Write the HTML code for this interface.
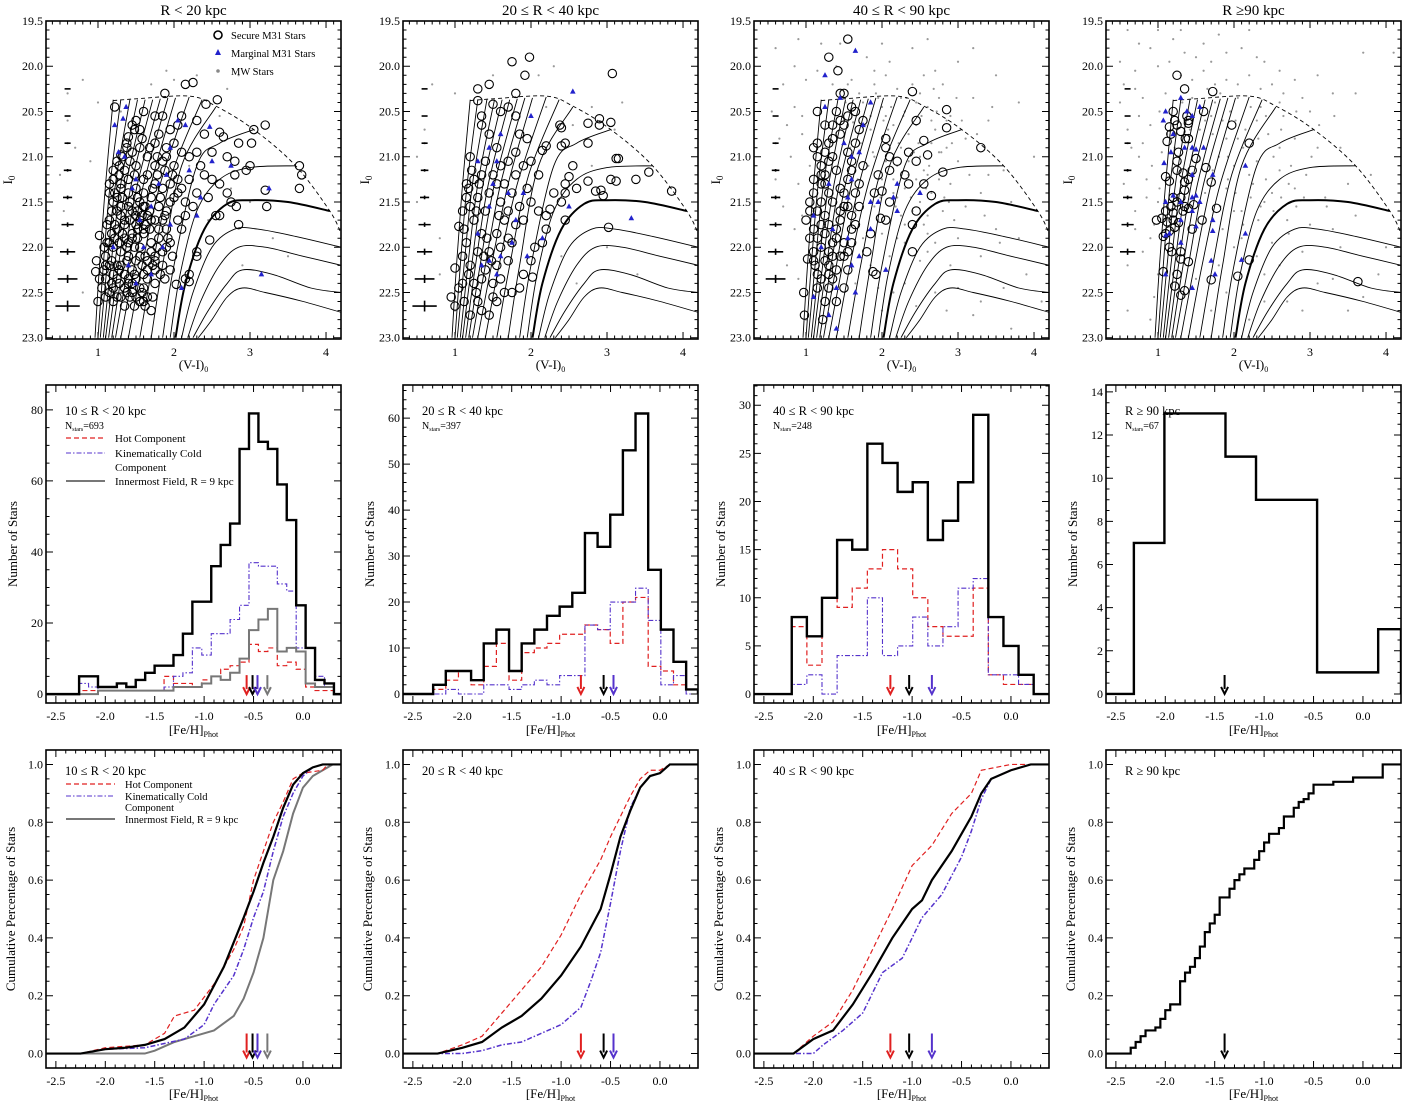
<!DOCTYPE html>
<html><head><meta charset="utf-8"><style>
html,body{margin:0;padding:0;background:#fff}
svg{display:block;font-family:"Liberation Serif",serif}
</style></head><body>
<svg id="fig" width="1403" height="1103" viewBox="0 0 1403 1103" xmlns="http://www.w3.org/2000/svg"></svg>
<script>
// ---------------- DATA ----------------
const panelTitles = ["R < 20 kpc","20 \u2264 R < 40 kpc","40 \u2264 R < 90 kpc","R \u226590 kpc"];
const rangeLabels = ["10 \u2264 R < 20 kpc","20 \u2264 R < 40 kpc","40 \u2264 R < 90 kpc","R \u2265 90 kpc"];
const nStars = [693,397,248,67];
const binStart = [-2.265,-2.295,-2.218,-2.318];
const binWidth = [0.0955,0.128,0.153,0.309];
const histAll1 = [5,5,2,2,3,2,4,6,8,8,11,17,26,26,36,42,48,69,79,71,69,59,49,25,13,4,3];
const histHot1 = [1,1,1,1,1,1,1,1,1,5,3,3,2,4,5,7,8,9,14,12,13,8,9,7,2,1,1];
const histCold1= [3,2,1,1,1,1,1,1,1,2,5,6,13,11,17,17,21,25,37,36,36,31,29,13,13,5,2];
const histInner1=[0,0,1,1,1,1,1,1,1,1,2,2,2,3,5,4,6,10,18,21,24,12,13,12,3,2,2];
const histAll2 = [2,5,5,3,11,14,5,11,14,17,19,22,35,32,39,53,61,27,14,7,1];
const histHot2 = [1,3,5,2,6,11,3,9,10,11,13,13,15,14,11,20,21,6,5,2,1];
const histCold2= [0,1,0,0,2,2,1,2,3,2,4,4,15,14,20,20,23,16,2,4,0];
const histAll3 = [8,6,10,16,15,26,24,21,22,16,18,22,29,8,5,2];
const histHot3 = [7,3,10,9,11,13,15,13,10,7,6,6,11,2,1,1];
const histCold3= [1,2,0,4,4,10,4,5,8,5,7,11,12,2,2,1];
const histAll4 = [7,13,13,11,9,9,1,1,3];
const arrowHot = [-0.57,-0.80,-1.22,null];
const arrowAll = [-0.51,-0.57,-1.03,-1.40];
const arrowCold= [-0.46,-0.47,-0.80,null];
const arrowInner=[-0.36,null,null,null];
const cumAll1 = [[-2.25,0],[-2.0,0.015],[-1.8,0.02],[-1.6,0.03],[-1.4,0.05],[-1.2,0.09],[-1.0,0.17],[-0.8,0.30],[-0.6,0.47],[-0.5,0.56],[-0.4,0.66],[-0.3,0.75],[-0.2,0.85],[-0.1,0.93],[0.0,0.97],[0.1,0.99],[0.2,1.0]];
const cumHot1 = [[-2.25,0],[-2.0,0.02],[-1.6,0.03],[-1.4,0.07],[-1.3,0.13],[-1.1,0.15],[-0.9,0.24],[-0.7,0.36],[-0.6,0.44],[-0.5,0.60],[-0.4,0.70],[-0.3,0.80],[-0.2,0.87],[-0.1,0.95],[0.0,0.97],[0.2,0.98],[0.25,1.0]];
const cumCold1= [[-2.25,0],[-2.0,0.015],[-1.6,0.02],[-1.2,0.05],[-1.0,0.10],[-0.9,0.17],[-0.7,0.27],[-0.6,0.36],[-0.5,0.47],[-0.4,0.56],[-0.3,0.70],[-0.2,0.82],[-0.1,0.90],[0.0,0.96],[0.1,0.99],[0.2,1.0]];
const cumInner1=[[-1.6,0],[-1.5,0.01],[-1.3,0.04],[-1.1,0.06],[-0.9,0.08],[-0.7,0.13],[-0.6,0.19],[-0.5,0.28],[-0.4,0.40],[-0.35,0.50],[-0.3,0.60],[-0.2,0.70],[-0.1,0.83],[0.0,0.92],[0.1,0.96],[0.2,0.98],[0.3,1.0]];
const cumAll2 = [[-2.25,0],[-2.0,0.02],[-1.8,0.04],[-1.6,0.09],[-1.4,0.13],[-1.2,0.19],[-1.0,0.27],[-0.8,0.37],[-0.6,0.50],[-0.5,0.62],[-0.4,0.75],[-0.3,0.84],[-0.2,0.92],[-0.1,0.96],[0.0,0.97],[0.1,1.0]];
const cumHot2 = [[-2.25,0],[-2.0,0.03],[-1.8,0.06],[-1.6,0.14],[-1.4,0.22],[-1.2,0.30],[-1.0,0.41],[-0.8,0.55],[-0.6,0.67],[-0.5,0.75],[-0.4,0.82],[-0.3,0.89],[-0.2,0.95],[-0.1,0.98],[0.0,0.98],[0.1,1.0]];
const cumCold2= [[-2.25,0],[-2.0,0],[-1.8,0.01],[-1.6,0.03],[-1.4,0.04],[-1.2,0.07],[-1.0,0.10],[-0.8,0.16],[-0.7,0.25],[-0.6,0.35],[-0.5,0.52],[-0.4,0.70],[-0.3,0.85],[-0.2,0.92],[-0.1,0.96],[0.0,0.97],[0.1,1.0]];
const cumAll3 = [[-2.2,0],[-2.0,0.05],[-1.8,0.08],[-1.6,0.17],[-1.4,0.28],[-1.2,0.40],[-1.0,0.50],[-0.9,0.53],[-0.8,0.60],[-0.6,0.70],[-0.5,0.76],[-0.4,0.82],[-0.3,0.90],[-0.2,0.95],[0.0,0.98],[0.2,1.0]];
const cumHot3 = [[-2.2,0],[-2.0,0.06],[-1.8,0.11],[-1.6,0.22],[-1.4,0.36],[-1.2,0.50],[-1.0,0.65],[-0.8,0.72],[-0.6,0.83],[-0.4,0.90],[-0.3,0.98],[0.0,1.0]];
const cumCold3= [[-2.0,0],[-1.9,0.03],[-1.7,0.08],[-1.5,0.14],[-1.3,0.28],[-1.1,0.33],[-0.9,0.47],[-0.7,0.55],[-0.5,0.68],[-0.4,0.77],[-0.3,0.88],[-0.2,0.95],[0.0,0.98],[0.2,1.0]];
const cumAll4 = [[-2.35,0.02],[-2.3,0.04],[-2.25,0.06],[-2.2,0.08],[-2.1,0.09],[-2.05,0.12],[-2.0,0.15],[-1.95,0.17],[-1.85,0.25],[-1.8,0.28],[-1.75,0.30],[-1.7,0.33],[-1.65,0.37],[-1.6,0.42],[-1.55,0.45],[-1.5,0.48],[-1.45,0.54],[-1.35,0.57],[-1.3,0.60],[-1.25,0.62],[-1.2,0.64],[-1.1,0.67],[-1.05,0.70],[-1.0,0.73],[-0.95,0.76],[-0.85,0.78],[-0.8,0.82],[-0.7,0.85],[-0.65,0.87],[-0.6,0.88],[-0.55,0.90],[-0.5,0.93],[-0.3,0.94],[-0.1,0.955],[0.2,1.0]];
const secure1 = "1.22,20.45;1.5,20.6;1.55,20.7;1.6,20.5;1.75,20.55;1.85,20.55;1.95,20.7;2.05,20.65;2.1,20.55;1.88,20.3;2.15,20.2;2.25,20.18;2.57,20.37;2.42,20.42;2.3,20.6;2.4,20.75;2.6,20.73;2.5,20.95;2.65,20.78;2.7,21.0;2.8,21.05;2.85,20.85;3.05,20.7;3.02,20.85;3.2,20.65;2.95,21.15;3.0,21.1;3.65,21.1;3.68,21.2;3.65,21.35;3.2,21.37;3.22,21.55;2.8,21.2;2.6,21.3;2.5,21.25;2.7,21.4;2.75,21.5;2.82,21.55;2.85,21.75;2.55,21.65;2.6,21.65;2.47,21.92;2.3,22.05;2.3,22.1;2.2,22.3;2.15,22.35;2.2,22.38;2.03,22.41;1.7,22.7;1.0,22.6;0.97,22.27;0.98,22.15;1.02,21.87;1.15,21.7;1.15,21.3;1.2,21.15;1.25,21.05;1.3,20.98;1.4,20.78;1.45,20.65;1.35,21.15;1.4,21.4;1.55,21.5;1.6,21.4;1.65,21.2;1.75,21.1;1.85,21.05;1.9,21.0;2.0,21.1;2.1,20.95;2.2,21.0;2.3,20.95;2.35,21.1;2.4,21.2;2.2,21.25;2.1,21.35;2.0,21.45;1.9,21.6;2.05,21.7;2.15,21.5;2.3,21.4;2.45,21.45;1.3,21.55;1.25,21.8;1.2,22.0;1.3,22.05;1.35,22.3;1.45,22.5;1.55,22.6;1.65,22.55;1.2,22.45;1.1,22.35;1.1,22.1;1.15,21.95;1.25,22.2;1.4,21.95;1.5,21.75;1.6,21.85;1.7,22.05;1.8,21.9;1.9,21.8;1.85,22.2;1.95,22.25;1.75,22.4;1.6,22.3;1.5,22.15;1.4,22.1;1.3,21.65;1.45,21.6;1.65,21.65;1.75,21.7;1.8,21.55;1.7,21.45;1.6,21.25;1.5,21.1;1.45,20.95;1.55,20.9;1.65,21.0;1.75,20.85;1.8,20.75;1.9,20.9;2.0,20.85;2.05,21.25;1.95,21.3;1.85,21.35;1.75,21.3;1.6,21.55;1.5,21.35;1.4,21.25;1.3,21.3;1.2,21.5;1.25,21.6;1.35,21.75;1.45,21.85;1.55,22.0;1.65,22.15;1.75,22.25;1.85,22.05;1.6,22.45;1.4,22.4;1.3,22.55;1.2,22.6;1.35,22.65;1.5,22.35;1.05,22.45;1.1,22.55;1.25,22.35;1.15,22.2;1.35,21.9;1.55,21.7;1.7,21.95;1.45,22.25;1.95,21.95;2.1,21.8;2.15,21.65;2.25,21.55;1.32,21.45;1.42,21.7;1.52,21.9;1.62,22.1;1.72,22.2;1.38,22.0;1.48,22.3;1.58,22.5;1.28,22.25;1.18,22.4;1.22,21.9;1.42,22.55;1.52,21.6;1.68,21.8;1.78,22.0;1.88,22.35;1.08,22.0;1.12,21.75;1.18,21.6;1.22,21.4;1.28,21.2;1.32,21.0;1.38,20.85;1.42,21.05;1.48,21.2;1.52,21.45;1.58,21.65;1.62,21.75;1.68,21.6;1.72,21.35;1.78,21.2;1.82,21.45;1.88,21.65;1.92,21.9;1.98,22.1;1.82,22.3;1.72,22.55;1.62,22.65;1.48,22.65;1.38,22.5;1.28,22.4;1.18,22.15;1.12,21.95;1.22,21.75;1.32,21.85;1.42,21.5;1.52,21.8;1.62,21.55;1.58,22.2;1.48,22.0;1.38,22.15;1.28,21.95;1.18,21.85;1.08,22.25;1.02,22.35;1.15,22.5;1.25,22.55;1.35,22.45;1.45,22.4;1.55,22.45;1.65,22.35;1.75,22.1;1.85,21.7;1.95,21.5;2.05,21.4;1.98,21.2;1.88,21.15;1.78,21.0;1.68,20.9;1.58,20.8;1.48,20.7;1.38,20.9;1.28,21.1;1.2,21.25;1.3,21.35;1.4,21.55;1.5,21.65;1.6,21.8;1.7,21.7;1.8,21.8;1.9,22.0;1.75,22.15;1.65,22.25;1.55,22.1;1.45,21.9;1.35,21.7;1.25,21.45;1.15,21.4;1.2,22.3;1.3,22.2;1.4,22.35;1.5,22.55;1.6,22.6;1.1,22.2";
const marginal1 = "1.22,20.65;1.37,20.45;1.33,20.58;1.27,20.95;1.35,21.0;1.45,21.35;1.5,21.25;1.55,21.7;1.7,21.55;1.8,21.3;1.9,21.2;1.95,20.9;2.05,20.6;2.15,20.65;2.2,21.15;2.47,20.67;2.5,21.05;2.75,21.1;3.25,21.35;3.15,22.3;2.1,22.45;1.7,22.3;1.5,22.4;1.95,21.75;1.85,22.0;1.6,22.0;1.4,22.2;1.2,22.0;2.3,21.65;2.35,21.45";
const mw1 = "0.5,21.2;0.8,20.15;0.6,20.6;0.7,20.9;1.0,20.4;0.9,21.05;0.55,21.6;1.9,20.05;2.0,20.15;2.3,20.1;2.7,20.25;2.85,20.1;2.6,20.55;1.1,21.9;0.8,22.5;2.2,21.1;2.45,21.7;2.75,21.35;3.0,21.5;3.3,21.9;1.3,20.5;0.6,20.3;2.9,22.2;3.5,22.1;1.7,20.2";
const secure2 = "1.75,19.95;1.98,19.9;1.92,20.1;3.07,20.08;1.3,20.25;1.45,20.2;1.8,20.3;1.3,20.38;1.5,20.42;1.6,20.5;1.7,20.45;1.8,20.55;1.35,20.55;1.35,20.65;1.45,20.75;1.55,20.9;2.9,20.58;2.9,20.65;3.05,20.62;2.75,20.63;2.4,20.68;2.38,20.65;2.75,20.85;2.45,20.85;2.4,20.88;2.2,20.88;2.15,20.93;1.85,20.75;1.95,20.8;1.8,20.95;1.7,21.05;1.6,21.1;3.12,21.02;3.15,21.02;3.55,21.17;3.85,21.38;3.05,21.25;3.12,21.27;3.38,21.25;2.75,21.27;2.85,21.38;2.95,21.43;2.92,21.37;2.5,21.22;2.55,21.1;2.45,21.3;2.3,21.4;2.45,21.4;2.6,21.35;2.4,21.5;2.25,21.58;2.1,21.6;2.2,21.65;2.45,21.7;3.02,21.78;2.2,21.8;2.15,21.95;2.05,22.0;2.0,22.15;1.9,22.3;2.02,22.33;1.85,22.45;1.75,22.5;1.55,22.6;1.45,22.75;1.35,22.7;1.3,22.6;1.2,22.75;1.0,22.65;0.95,22.55;1.0,22.23;1.05,22.45;1.1,22.4;1.05,21.77;1.1,21.6;1.15,21.3;1.2,21.0;1.25,21.25;1.15,21.45;1.2,21.55;1.12,21.8;1.15,21.95;1.1,22.1;1.2,22.2;1.25,22.4;1.3,22.05;1.35,21.85;1.4,21.6;1.45,21.4;1.5,21.2;1.55,21.3;1.6,21.5;1.65,21.7;1.7,21.9;1.75,21.4;1.8,21.2;1.9,21.1;2.0,21.05;2.1,21.2;1.95,21.35;1.85,21.55;1.8,21.75;1.6,22.0;1.55,22.2;1.5,22.4;1.4,22.25;1.45,22.05;1.35,22.35;1.6,22.35;1.7,22.15;1.75,21.95;1.25,21.7;1.3,21.45;1.35,21.2;1.4,21.05;1.65,21.3;2.0,21.5;1.9,21.7;1.7,21.6;1.55,21.85;1.28,22.5;1.18,22.3;1.65,22.5;1.22,21.15;1.18,21.35;1.28,21.6;1.32,21.3;1.42,21.9;1.48,22.15;1.38,22.1;1.5,22.55;1.12,22.6;1.58,21.65";
const marginal2 = "2.55,20.28;2.0,20.55;1.6,20.75;1.45,20.9;1.55,21.05;1.3,21.05;1.5,21.3;1.7,21.4;1.9,21.4;1.45,21.55;2.5,21.55;3.32,21.68;2.15,21.9;1.75,21.95;1.6,22.1;1.45,22.15;1.35,22.2;1.55,22.3;1.95,22.1;1.3,21.85;1.8,21.7";
const mw2 = "0.5,21.0;0.7,20.2;1.0,20.3;1.5,20.1;2.1,20.1;2.3,20.0;2.55,20.65;2.8,20.45;3.1,20.7;0.6,20.7;0.5,21.5;0.8,21.9;1.0,22.7;2.4,22.1;2.8,21.1;3.0,22.0;3.4,22.3;2.6,22.4;0.8,22.3;3.2,20.4;2.2,20.45";
const secure3 = "1.55,19.7;1.3,19.9;1.42,20.05;1.45,20.3;1.5,20.3;1.6,20.45;1.65,20.5;1.55,20.55;1.4,20.5;1.45,20.6;1.35,20.65;1.25,20.65;1.15,20.5;2.4,20.28;2.45,20.6;2.85,20.48;2.85,20.68;3.3,20.9;2.6,20.98;2.55,20.82;2.45,21.05;2.35,20.95;2.2,21.05;2.05,20.9;2.1,21.0;2.05,20.8;2.1,21.15;2.3,21.2;2.35,21.3;2.55,21.3;2.8,21.17;2.65,21.43;2.45,21.6;2.4,21.75;2.4,22.05;2.1,21.5;2.05,21.7;1.98,21.68;1.9,21.4;2.0,21.38;1.95,21.2;1.85,21.85;1.8,22.05;1.92,22.3;1.88,22.27;1.15,20.85;1.1,20.9;1.15,21.0;1.2,21.1;1.25,21.2;1.1,21.25;1.05,21.5;1.0,21.7;1.05,21.6;1.1,21.8;1.15,21.9;1.2,22.0;1.1,22.05;1.15,22.3;1.12,22.2;1.2,22.35;1.25,22.15;1.3,22.05;1.35,21.95;1.4,21.8;1.45,21.6;1.5,21.4;1.55,21.25;1.6,21.05;1.65,20.85;1.7,20.7;1.75,20.6;1.3,21.4;1.35,21.5;1.25,21.65;1.2,21.5;1.3,21.75;1.5,21.95;1.45,22.1;1.4,22.25;1.35,22.35;1.3,22.3;1.5,22.1;1.55,22.05;1.6,21.95;1.65,21.75;1.55,21.55;1.45,21.35;1.4,21.15;1.35,21.0;1.3,20.85;1.25,20.95;1.2,21.3;0.97,22.5;0.98,22.75;1.02,22.13;1.22,22.8;1.3,22.45;1.7,21.3;1.75,21.1;1.6,21.65;1.55,22.25;1.5,22.45;1.1,21.4;1.15,21.6;1.2,21.75;1.25,21.85;1.3,22.2;1.35,22.1;1.4,21.9;1.45,21.7;1.5,21.55;1.2,21.2;1.25,21.3;1.3,21.05;1.35,20.8;1.45,20.75;1.5,20.65;1.55,20.95;1.6,21.15;1.65,21.4;1.7,21.55;1.6,21.8;1.05,21.9;1.1,22.15;1.15,22.45;1.25,22.6;1.4,22.6";
const marginal3 = "1.25,20.1;1.65,19.83;1.25,20.45;1.45,20.35;1.85,20.4;1.75,20.65;1.5,20.85;1.6,21.0;1.7,20.95;1.3,21.3;1.55,21.45;1.6,21.25;1.85,21.5;1.95,21.5;2.2,21.3;2.15,21.45;2.2,21.6;2.5,21.4;1.1,21.65;1.35,21.8;1.55,21.9;1.85,21.8;2.05,22.25;1.6,22.2;1.7,22.1;1.4,22.45;1.1,22.55;1.4,22.9;1.65,22.5;1.3,22.75;1.2,22.0";
const mw3 = "0.6,19.8;0.9,19.7;1.2,19.75;1.8,19.9;2.1,19.95;2.4,19.8;2.7,20.05;3.0,19.95;3.5,20.1;0.7,20.2;1.0,20.15;1.6,20.15;1.9,20.2;2.2,20.25;2.5,20.3;2.8,20.2;3.2,20.35;0.55,20.5;0.85,20.45;1.75,20.4;2.0,20.45;2.3,20.5;2.6,20.45;2.9,20.55;3.4,20.6;0.65,20.8;0.95,20.75;1.85,20.7;2.15,20.65;2.35,20.75;2.7,20.7;3.1,20.8;0.8,21.0;1.9,21.0;2.25,20.9;2.5,21.0;2.75,20.95;3.0,21.05;3.6,21.15;0.6,21.25;0.9,21.3;2.0,21.25;2.3,21.35;2.6,21.2;2.9,21.3;3.3,21.4;0.7,21.55;1.9,21.55;2.2,21.45;2.5,21.5;2.8,21.6;3.1,21.55;0.85,21.8;2.0,21.85;2.3,21.75;2.6,21.85;3.0,21.9;3.5,21.8;0.6,22.05;2.1,22.1;2.5,22.15;2.9,22.2;3.3,22.1;0.9,22.35;2.3,22.4;2.7,22.5;3.6,22.45;1.0,22.8;2.0,22.7;3.2,22.75;1.4,20.0;1.55,20.2;2.05,20.1;2.55,20.1;1.7,20.3;2.2,21.1;2.4,21.6;2.65,21.4;2.1,20.8;1.95,21.7;3.8,20.4;4.0,21.0;3.9,22.3;3.7,22.9;2.45,20.4;2.65,20.6;2.05,20.55;2.35,21.05;2.55,21.15;2.15,21.25;1.85,20.55;2.75,20.35;2.25,20.35;1.95,20.35;2.85,20.9;2.45,21.25;2.6,21.65;2.2,21.9;2.4,20.2;1.9,20.05;1.52,20.4;1.62,20.62;1.72,20.85;1.82,21.1;1.92,20.3;2.02,20.6;2.12,20.45;2.22,20.85;2.32,20.35;2.42,20.95;2.52,20.55;2.62,21.1;2.72,20.5;2.82,21.45;2.92,20.85;1.55,21.15;1.65,21.6;1.75,21.9;1.85,22.2;2.05,21.05;2.15,21.4;2.25,21.65;2.35,21.2;2.45,20.65;2.55,21.75;2.65,20.85;2.75,21.25;2.85,20.6;2.95,21.7;3.05,20.6;3.15,21.2;3.25,20.75;3.35,21.65;3.45,20.45;3.55,21.95;1.48,20.55;1.58,20.9;1.68,21.25;1.78,20.65;1.88,20.95;1.98,21.45;2.08,20.7;2.18,21.55;2.28,20.55;2.38,21.45;2.48,20.85;2.58,21.35;2.68,20.25;2.78,20.95;2.88,21.5;2.98,20.35;1.15,20.05;1.35,20.2;0.95,20.55;0.75,20.65;1.05,21.1;0.65,21.45;0.95,21.65;0.75,22.2;1.65,22.4;2.15,22.5;2.6,22.05;3.0,22.45;3.4,21.2;3.7,21.5;3.2,19.8;2.6,19.7;2.0,19.75;1.45,19.75;0.85,20.0;2.3,21.95;2.7,21.95;1.95,22.45;2.45,22.65;2.85,22.7;3.8,21.9;3.3,22.6;4.1,22.6";
const secure4 = "1.25,20.1;1.35,20.25;1.72,20.28;1.2,20.5;1.38,20.55;1.4,20.6;1.4,20.63;1.22,20.6;1.25,20.65;1.15,20.67;1.3,20.72;1.17,20.75;1.12,20.83;1.36,20.8;1.4,20.8;1.6,20.5;1.97,20.65;2.2,20.85;1.27,20.95;1.25,21.05;1.5,21.02;1.45,21.15;1.33,21.18;1.25,21.15;1.1,21.22;1.15,21.27;1.63,21.12;1.7,21.28;1.35,21.28;1.4,21.25;1.35,21.37;1.3,21.45;1.2,21.45;1.17,21.55;1.25,21.5;1.35,21.55;1.33,21.6;1.47,21.53;1.4,21.57;1.1,21.6;1.2,21.62;1.05,21.68;0.98,21.7;1.12,21.72;1.2,21.7;1.27,21.73;1.22,21.78;1.15,21.82;1.1,21.85;1.07,21.88;1.58,21.7;1.77,21.57;1.45,21.8;1.15,22.0;1.18,22.05;1.3,22.05;1.3,22.13;1.4,22.16;1.07,22.27;1.25,22.3;1.7,22.36;2.05,22.32;2.2,22.14;1.22,22.43;1.35,22.48;1.3,22.53;3.63,22.38";
const marginal4 = "1.3,20.35;1.1,20.5;1.07,20.6;1.2,20.75;1.38,20.5;1.45,20.55;1.55,20.45;1.17,20.95;1.08,21.07;1.35,20.9;1.45,20.9;1.5,20.92;1.6,20.9;1.45,21.2;1.72,21.2;2.15,21.1;1.1,21.5;1.2,21.43;1.3,21.5;1.45,21.45;1.5,21.43;1.55,21.5;1.45,21.6;1.3,21.7;1.5,21.77;1.72,21.7;1.72,21.82;2.15,21.85;1.3,21.95;1.7,22.15;2.1,22.14;1.1,22.3;1.75,22.3;1.45,22.45;1.15,21.85;1.1,21.87";
const mw4 = "0.6,19.6;0.9,19.8;1.2,19.7;1.5,19.9;1.8,19.65;2.1,19.8;2.4,19.95;3.7,19.85;0.7,20.05;1.0,20.0;1.3,20.1;1.6,20.05;1.9,20.15;2.2,20.1;2.5,20.2;2.8,20.15;3.3,20.3;0.5,20.4;0.8,20.35;1.1,20.3;1.45,20.35;1.75,20.4;2.05,20.35;2.35,20.45;2.65,20.55;3.0,20.5;0.6,20.7;0.9,20.65;1.55,20.7;1.85,20.6;2.15,20.7;2.45,20.75;2.8,20.8;3.4,20.9;0.75,21.0;1.05,20.95;1.8,21.0;2.0,21.1;2.3,21.05;2.6,21.15;2.95,21.2;0.55,21.3;0.85,21.25;1.9,21.35;2.25,21.3;2.5,21.4;2.8,21.35;3.2,21.45;0.7,21.6;2.0,21.6;2.35,21.55;2.7,21.7;3.0,21.75;3.6,21.65;0.9,21.9;2.1,21.9;2.5,21.95;2.9,22.05;3.4,22.0;0.6,22.2;1.8,22.2;2.4,22.3;3.1,22.4;3.9,22.3;0.95,22.55;2.7,22.6;3.5,22.7;0.6,22.7;1.4,20.5;1.65,20.25;2.05,20.8;1.95,20.5;2.2,21.2;1.7,19.95;2.6,20.4;2.1,21.6;0.5,19.95;4.1,19.85;3.6,20.3;3.8,21.2;1.0,19.6;1.35,19.85;0.8,20.85;1.7,20.55;2.3,20.6;2.6,20.9;1.9,20.8;2.4,21.5;2.75,21.1;0.65,21.45;1.0,21.5;0.7,20.25;3.1,20.9;2.2,19.6;1.02,20.5;1.12,20.75;1.22,20.9;1.32,20.4;1.42,20.7;1.52,21.05;1.62,20.6;1.72,20.75;1.82,20.3;1.92,21.0;2.02,20.6;2.12,20.9;2.22,20.45;2.32,20.8;2.42,20.55;2.52,21.0;2.62,20.7;2.72,21.3;2.82,20.5;0.92,21.1;1.02,21.35;1.62,21.4;1.72,21.15;1.82,21.55;1.92,21.25;2.02,21.4;2.12,21.75;2.22,21.45;2.32,21.7;2.42,21.25;2.52,21.6;2.62,21.45;2.72,21.85;2.82,21.55;2.92,21.45;3.02,21.0;3.12,20.65;3.22,21.55;3.32,20.55;0.75,20.55;0.65,20.9;0.85,21.45;0.95,21.75;0.8,22.05;1.0,22.3;1.5,22.35;1.9,22.5;2.3,22.1;2.6,22.2;2.9,22.7;3.3,22.35;3.7,22.55;4.0,22.0;1.3,19.6;1.6,19.75;1.9,19.85;2.3,19.9;2.6,20.05;2.9,20.35;3.1,20.1;0.75,19.75;1.15,19.95;1.45,20.15;1.75,20.2;2.05,20.2;2.35,20.25;2.65,20.3;0.55,20.2;0.7,21.8;1.85,21.8;2.0,22.0;2.4,22.6;3.5,21.3;3.3,21.8;2.2,22.8;1.7,22.7;0.9,22.8";
const errI = [20.25,20.55,20.85,21.15,21.45,21.75,22.05,22.35,22.65];
const errDX = [0.02,0.03,0.04,0.05,0.06,0.08,0.10,0.13,0.16];
const errDY = [0.0,0.005,0.01,0.015,0.02,0.025,0.035,0.045,0.06];
const errRows = [9,9,8,7];
const isochrones = [
[[0.96,23],[1.02,22.2],[1.1,21.3],[1.2,20.37]],
[[1.0,23],[1.07,22.2],[1.16,21.3],[1.3,20.37]],
[[1.03,23],[1.12,22.2],[1.23,21.3],[1.42,20.37]],
[[1.07,23],[1.17,22.2],[1.3,21.3],[1.52,20.37]],
[[1.1,23],[1.22,22.2],[1.37,21.3],[1.62,20.37]],
[[1.14,23],[1.27,22.2],[1.44,21.3],[1.72,20.37]],
[[1.18,23],[1.33,22.2],[1.52,21.3],[1.82,20.36]],
[[1.23,23],[1.4,22.2],[1.6,21.3],[1.92,20.35]],
[[1.3,23],[1.48,22.2],[1.7,21.3],[2.02,20.35]],
[[1.4,23],[1.58,22.2],[1.82,21.3],[2.2,20.34]],
[[1.55,23],[1.72,22.2],[1.97,21.2],[2.37,20.37]],
[[1.7,23],[1.85,22.2],[2.1,21.1],[2.55,20.45]],
[[1.85,23],[2.0,22.2],[2.3,21.1],[2.6,20.85],[3.05,20.7]],
[[1.95,23],[2.08,22.3],[2.3,21.6],[2.6,21.25],[3.0,21.12],[3.6,21.1]],
[[2.02,23],[2.15,22.4],[2.4,21.8],[2.7,21.52],[3.0,21.48],[3.5,21.5],[4.05,21.6]],
[[2.1,23],[2.25,22.5],[2.5,22.0],[2.8,21.8],[3.1,21.8],[3.6,21.88],[4.2,22.0]],
[[2.18,23],[2.35,22.6],[2.6,22.2],[2.85,22.0],[3.2,22.0],[3.7,22.1],[4.2,22.2]],
[[2.25,23],[2.45,22.7],[2.7,22.4],[2.9,22.25],[3.3,22.3],[3.8,22.45],[4.2,22.5]],
[[2.32,23],[2.5,22.8],[2.7,22.55],[2.9,22.45],[3.2,22.5],[3.7,22.6],[4.2,22.72]]
];
const boundary = [[1.2,20.38],[1.5,20.36],[2.2,20.33],[2.55,20.44],[3.05,20.7],[3.6,21.1],[4.05,21.6],[4.2,21.85]];

// ---------------- LAYOUT ----------------
const NS="http://www.w3.org/2000/svg";
const svg=document.getElementById('fig');
const colX=[46,403,754,1106], PW=295;
const rowCMD=[21,339], rowH=[385,703], rowC=[750,1068];
const FX=[-2.6,0.385];
function el(tag,attrs,parent){const e=document.createElementNS(NS,tag);for(const k in attrs)e.setAttribute(k,attrs[k]);(parent||svg).appendChild(e);return e;}
function parse(s){return s.split(';').map(p=>p.split(',').map(Number));}
function smoothPath(pts){let d='M'+pts[0][0].toFixed(1)+','+pts[0][1].toFixed(1);
 for(let i=0;i<pts.length-1;i++){const p0=pts[i-1]||pts[i],p1=pts[i],p2=pts[i+1],p3=pts[i+2]||p2;
  const c1=[p1[0]+(p2[0]-p0[0])/6,p1[1]+(p2[1]-p0[1])/6],c2=[p2[0]-(p3[0]-p1[0])/6,p2[1]-(p3[1]-p1[1])/6];
  d+=' C'+c1.map(v=>v.toFixed(1))+' '+c2.map(v=>v.toFixed(1))+' '+p2.map(v=>v.toFixed(1));}
 return d;}

function axes(g,L,T,B,xmin,xmax,ymin,ymax,xMaj,xMin,yMaj,yMin,xLabs,yLabs,inv){
 const W=PW,H=B-T;
 const sx=v=>L+(v-xmin)/(xmax-xmin)*W;
 const sy=inv?(v=>T+(v-ymin)/(ymax-ymin)*H):(v=>B-(v-ymin)/(ymax-ymin)*H);
 const fr=el('rect',{x:L,y:T,width:W,height:H,fill:'none',stroke:'#000','stroke-width':1.6},g);
 
 
 let d='';
 const k0=Math.ceil(xmin/xMin-1e-6),k1=Math.floor(xmax/xMin+1e-6);
 for(let k=k0;k<=k1;k++){const v=k*xMin,x=sx(v);const maj=Math.abs(v/xMaj-Math.round(v/xMaj))<1e-6;const len=maj?7:3.5;
  d+=`M${x},${B}v${-len}M${x},${T}v${len}`;}
 const j0=Math.ceil(Math.min(ymin,ymax)/yMin-1e-6),j1=Math.floor(Math.max(ymin,ymax)/yMin+1e-6);
 for(let k=j0;k<=j1;k++){const v=k*yMin,y=sy(v);const maj=Math.abs(v/yMaj-Math.round(v/yMaj))<1e-6;const len=maj?7:3.5;
  d+=`M${L},${y}h${len}M${L+W},${y}h${-len}`;}
 const tk=el('path',{d:d,stroke:'#000','stroke-width':1,fill:'none'},g);
 
 
 xLabs.forEach(v=>{const t=el('text',{x:sx(v),y:B+17,'font-size':12,'text-anchor':'middle'},g);t.textContent=v.toFixed(xMaj<1?1:0);
  
  });
 yLabs.forEach(v=>{const t=el('text',{x:L-3,y:sy(v)+4,'font-size':12,'text-anchor':'end'},g);t.textContent=yMaj<1||inv?v.toFixed(1):String(v);
  
  });
 return {sx,sy};
}
function range(a,b,s){const r=[];for(let k=Math.round(a/s);k<=Math.round(b/s);k++)r.push(+(k*s).toFixed(4));return r;}
function ylabel(g,x,yc,txt,sub){const t=el('text',{x:x,y:yc,'font-size':13,'text-anchor':'middle',transform:`rotate(-90 ${x} ${yc})`},g);
 t.textContent=txt; if(sub){const s=el('tspan',{'font-size':9,dy:3},t);s.textContent=sub;}
 
 }
function xlabel(g,xc,y,txt,sub){const t=el('text',{x:xc,y:y,'font-size':13,'text-anchor':'middle'},g);t.textContent=txt;
 const s=el('tspan',{'font-size':8,dy:3},t);s.textContent=sub;
 
 }
function txt(g,x,y,s,fs,name){const t=el('text',{x:x,y:y,'font-size':fs},g);t.textContent=s;
 
 return t;}

// ---------------- ROW 1: CMDs ----------------
const secureArr=[secure1,secure2,secure3,secure4].map(parse);
const marginalArr=[marginal1,marginal2,marginal3,marginal4].map(parse);
const mwArr=[mw1,mw2,mw3,mw4].map(parse);
for(let c=0;c<4;c++){
 const L=colX[c];
 const g=el('g',{});
 
 
 const tt=el('text',{x:L+PW/2,y:15,'font-size':15,'text-anchor':'middle'},g);tt.textContent=panelTitles[c];
 
 
 const cp=el('clipPath',{id:'clipc'+c},g);el('rect',{x:L,y:rowCMD[0],width:PW,height:rowCMD[1]-rowCMD[0]},cp);
 const dg=el('g',{'clip-path':`url(#clipc${c})`},g);
 const xmin=0.316,xmax=4.197,ymin=19.5,ymax=23.014;
 const sx=v=>L+(v-xmin)/(xmax-xmin)*PW, sy=v=>rowCMD[0]+(v-ymin)/(ymax-ymin)*(rowCMD[1]-rowCMD[0]);
 mwArr[c].forEach(p=>{const e=el('circle',{cx:sx(p[0]),cy:sy(p[1]),r:1.1,fill:'#999'},dg);
  
  });
 isochrones.forEach((iso,i)=>{const e=el('path',{d:smoothPath(iso.map(p=>[sx(p[0]),sy(p[1])])),fill:'none',stroke:'#000','stroke-width':(i==14?2:0.9)},dg);
  
  });
 const bd=el('path',{d:smoothPath(boundary.map(p=>[sx(p[0]),sy(p[1])])),fill:'none',stroke:'#000','stroke-width':0.9,'stroke-dasharray':'4,3'},dg);
 
 
 secureArr[c].forEach(p=>{const e=el('circle',{cx:sx(p[0]),cy:sy(p[1]),r:4.2,fill:'none',stroke:'#000','stroke-width':1.1},dg);
  
  });
 marginalArr[c].forEach(p=>{const x=sx(p[0]),y=sy(p[1]);const e=el('polygon',{points:`${x},${y-3.2} ${x-2.8},${y+2} ${x+2.8},${y+2}`,fill:'#2222cc'},dg);
  
  });
 for(let i=0;i<errRows[c];i++){const x=sx(0.6),y=sy(errI[i]);const dx=Math.max(errDX[i]*(PW/(xmax-xmin)),3),dy=errDY[i]*((rowCMD[1]-rowCMD[0])/(ymax-ymin));
  const e=el('path',{d:`M${x-dx},${y}H${x+dx}`+(dy>0.5?`M${x},${y-dy}V${y+dy}`:''),stroke:'#000','stroke-width':1.6},dg);
  
  }
 axes(g,L,rowCMD[0],rowCMD[1],xmin,xmax,ymin,ymax,1,0.1,0.5,0.1,[1,2,3,4],range(19.5,23,0.5),true);
 xlabel(g,L+PW/2,369,'(V-I)','0');
 ylabel(g,L-34,180,'I','0');
}
{const g=el('g',{});
 
 
 const c1=el('circle',{cx:218,cy:35,r:4,fill:'none',stroke:'#000','stroke-width':1.6},g);
 
 
 txt(g,231,39,'Secure M31 Stars',10.5,'legend-secure-label');
 const t1=el('polygon',{points:'218,49 215,55 221,55',fill:'#2222cc'},g);
 
 
 txt(g,231,57,'Marginal M31 Stars',10.5,'legend-marginal-label');
 const d1=el('circle',{cx:218,cy:71,r:1.8,fill:'#888'},g);
 
 
 txt(g,231,75,'MW Stars',10.5,'legend-mw-label');}

// ---------------- ROW 2: histograms ----------------
const HOT='#e02020', COLD='#5533cc', INNER='#777';
const histSets=[[histAll1,histHot1,histCold1,histInner1],[histAll2,histHot2,histCold2,null],[histAll3,histHot3,histCold3,null],[histAll4,null,null,null]];
const hYmax=[87,67.2,32.1,14.32], hYmin=[-2.5,-1.96,-0.93,-0.42];
const hYMaj=[20,10,5,2], hYMin=[5,2,1,0.5];
function stepPath(vals,start,w,sx,sy){let d=`M${sx(FX[0])},${sy(0)}H${sx(start)}`;
 vals.forEach((v,i)=>{d+=`V${sy(v)}H${sx(Math.min(start+(i+1)*w,FX[1]))}`;});
 d+=`V${sy(0)}H${sx(FX[1])}`;return d;}
function arrow(g,x,yTop,yBot,col){const e=el('path',{d:`M${x},${yTop}V${yBot-5}M${x-3.5},${yBot-7}L${x},${yBot}L${x+3.5},${yBot-7}`,stroke:col,'stroke-width':2,fill:'none'},g);
 
 }
for(let c=0;c<4;c++){
 const L=colX[c];
 const g=el('g',{});
 
 
 const cp=el('clipPath',{id:'cliph'+c},g);el('rect',{x:L,y:rowH[0],width:PW,height:rowH[1]-rowH[0]},cp);
 const dg=el('g',{'clip-path':`url(#cliph${c})`},g);
 const sx=v=>L+(v-FX[0])/(FX[1]-FX[0])*PW, sy=v=>rowH[1]-(v-hYmin[c])/(hYmax[c]-hYmin[c])*(rowH[1]-rowH[0]);
 const [a,h,co,inn]=histSets[c];
 if(h){const e=el('path',{d:stepPath(h,binStart[c],binWidth[c],sx,sy),fill:'none',stroke:HOT,'stroke-width':1.2,'stroke-dasharray':'5,3'},dg);
  
  }
 if(co){const e=el('path',{d:stepPath(co,binStart[c],binWidth[c],sx,sy),fill:'none',stroke:COLD,'stroke-width':1.1,'stroke-dasharray':'5,2,1.5,2'},dg);
  
  }
 if(inn){const e=el('path',{d:stepPath(inn,binStart[c],binWidth[c],sx,sy),fill:'none',stroke:INNER,'stroke-width':2},dg);
  
  }
 const ea=el('path',{d:stepPath(a,binStart[c],binWidth[c],sx,sy),fill:'none',stroke:'#000','stroke-width':2.4},dg);
 
 
 const y0=sy(0);
 if(arrowHot[c]!==null)arrow(dg,sx(arrowHot[c]),y0-19,y0,HOT);
 if(arrowAll[c]!==null)arrow(dg,sx(arrowAll[c]),y0-19,y0,'#000');
 if(arrowCold[c]!==null)arrow(dg,sx(arrowCold[c]),y0-19,y0,COLD);
 if(arrowInner[c]!==null)arrow(dg,sx(arrowInner[c]),y0-19,y0,INNER);
 axes(g,L,rowH[0],rowH[1],FX[0],FX[1],hYmin[c],hYmax[c],0.5,0.1,hYMaj[c],hYMin[c],range(-2.5,0,0.5),range(0,Math.floor(hYmax[c]/hYMaj[c])*hYMaj[c],hYMaj[c]),false);
 xlabel(g,L+PW/2,734,'[Fe/H]','Phot');
 ylabel(g,L-29,544,'Number of Stars');
 txt(g,L+19,415,rangeLabels[c],12.5,'bin-range-label');
 const n=txt(g,L+19,429,'N',10,'star-count-label');const s=el('tspan',{'font-size':6,dy:2},n);s.textContent='stars';const s2=el('tspan',{dy:-2},n);s2.textContent='='+nStars[c];
}
function legendBlock(g,x0,x1,tx,ys,fs){
 const specs=[[HOT,'5,3',1.2],[COLD,'5,2,1.5,2',1.1],null,[INNER,null,2]];
 const labs=['Hot Component','Kinematically Cold','Component','Innermost Field, R = 9 kpc'];
 labs.forEach((l,i)=>{const sp=specs[i];
  if(sp){const a={d:`M${x0},${ys[i]-4}H${x1}`,stroke:sp[0],'stroke-width':sp[2]};if(sp[1])a['stroke-dasharray']=sp[1];const e=el('path',a,g);
   
   }
  txt(g,tx,ys[i],l,fs,'legend-label');});}
{const g=el('g',{});
 
 
 legendBlock(g,66,105,115,[442,457,471,485],11);}

// ---------------- ROW 3: cumulative ----------------
const cumSets=[[cumAll1,cumHot1,cumCold1,cumInner1],[cumAll2,cumHot2,cumCold2,null],[cumAll3,cumHot3,cumCold3,null],[cumAll4,null,null,null]];
function cumPath(pts,sx,sy,step){let d=`M${sx(FX[0])},${sy(0)}H${sx(pts[0][0])}`;
 pts.forEach(p=>{d+=step?`H${sx(p[0])}V${sy(p[1])}`:`L${sx(p[0])},${sy(p[1])}`;});
 d+=`H${sx(FX[1])}`;return d;}
for(let c=0;c<4;c++){
 const L=colX[c];
 const g=el('g',{});
 
 
 const cp=el('clipPath',{id:'clipk'+c},g);el('rect',{x:L,y:rowC[0],width:PW,height:rowC[1]-rowC[0]},cp);
 const dg=el('g',{'clip-path':`url(#clipk${c})`},g);
 const ymin=-0.05,ymax=1.05;
 const sx=v=>L+(v-FX[0])/(FX[1]-FX[0])*PW, sy=v=>rowC[1]-(v-ymin)/(ymax-ymin)*(rowC[1]-rowC[0]);
 const [a,h,co,inn]=cumSets[c];
 if(inn){const e=el('path',{d:cumPath(inn,sx,sy),fill:'none',stroke:INNER,'stroke-width':2},dg);
  
  }
 if(h){const e=el('path',{d:cumPath(h,sx,sy),fill:'none',stroke:HOT,'stroke-width':1.2,'stroke-dasharray':'5,3'},dg);
  
  }
 if(co){const e=el('path',{d:cumPath(co,sx,sy),fill:'none',stroke:COLD,'stroke-width':1.5,'stroke-dasharray':'5,2,1.5,2'},dg);
  
  }
 const ea=el('path',{d:cumPath(a,sx,sy,c==3),fill:'none',stroke:'#000','stroke-width':2.2},dg);
 
 
 const y0=sy(0)+4;
 if(arrowHot[c]!==null)arrow(dg,sx(arrowHot[c]),y0-24,y0,HOT);
 if(arrowAll[c]!==null)arrow(dg,sx(arrowAll[c]),y0-24,y0,'#000');
 if(arrowCold[c]!==null)arrow(dg,sx(arrowCold[c]),y0-24,y0,COLD);
 if(arrowInner[c]!==null)arrow(dg,sx(arrowInner[c]),y0-24,y0,INNER);
 axes(g,L,rowC[0],rowC[1],FX[0],FX[1],ymin,ymax,0.5,0.1,0.2,0.05,range(-2.5,0,0.5),range(0,1,0.2),false);
 xlabel(g,L+PW/2,1098,'[Fe/H]','Phot');
 ylabel(g,L-31,909,'Cumulative Percentage of Stars');
 txt(g,L+19,775,rangeLabels[c],12.5,'bin-range-label');
}
{const g=el('g',{});
 
 
 legendBlock(g,66,115,125,[788,800,811,823],10.5);}
</script>
</body></html>
